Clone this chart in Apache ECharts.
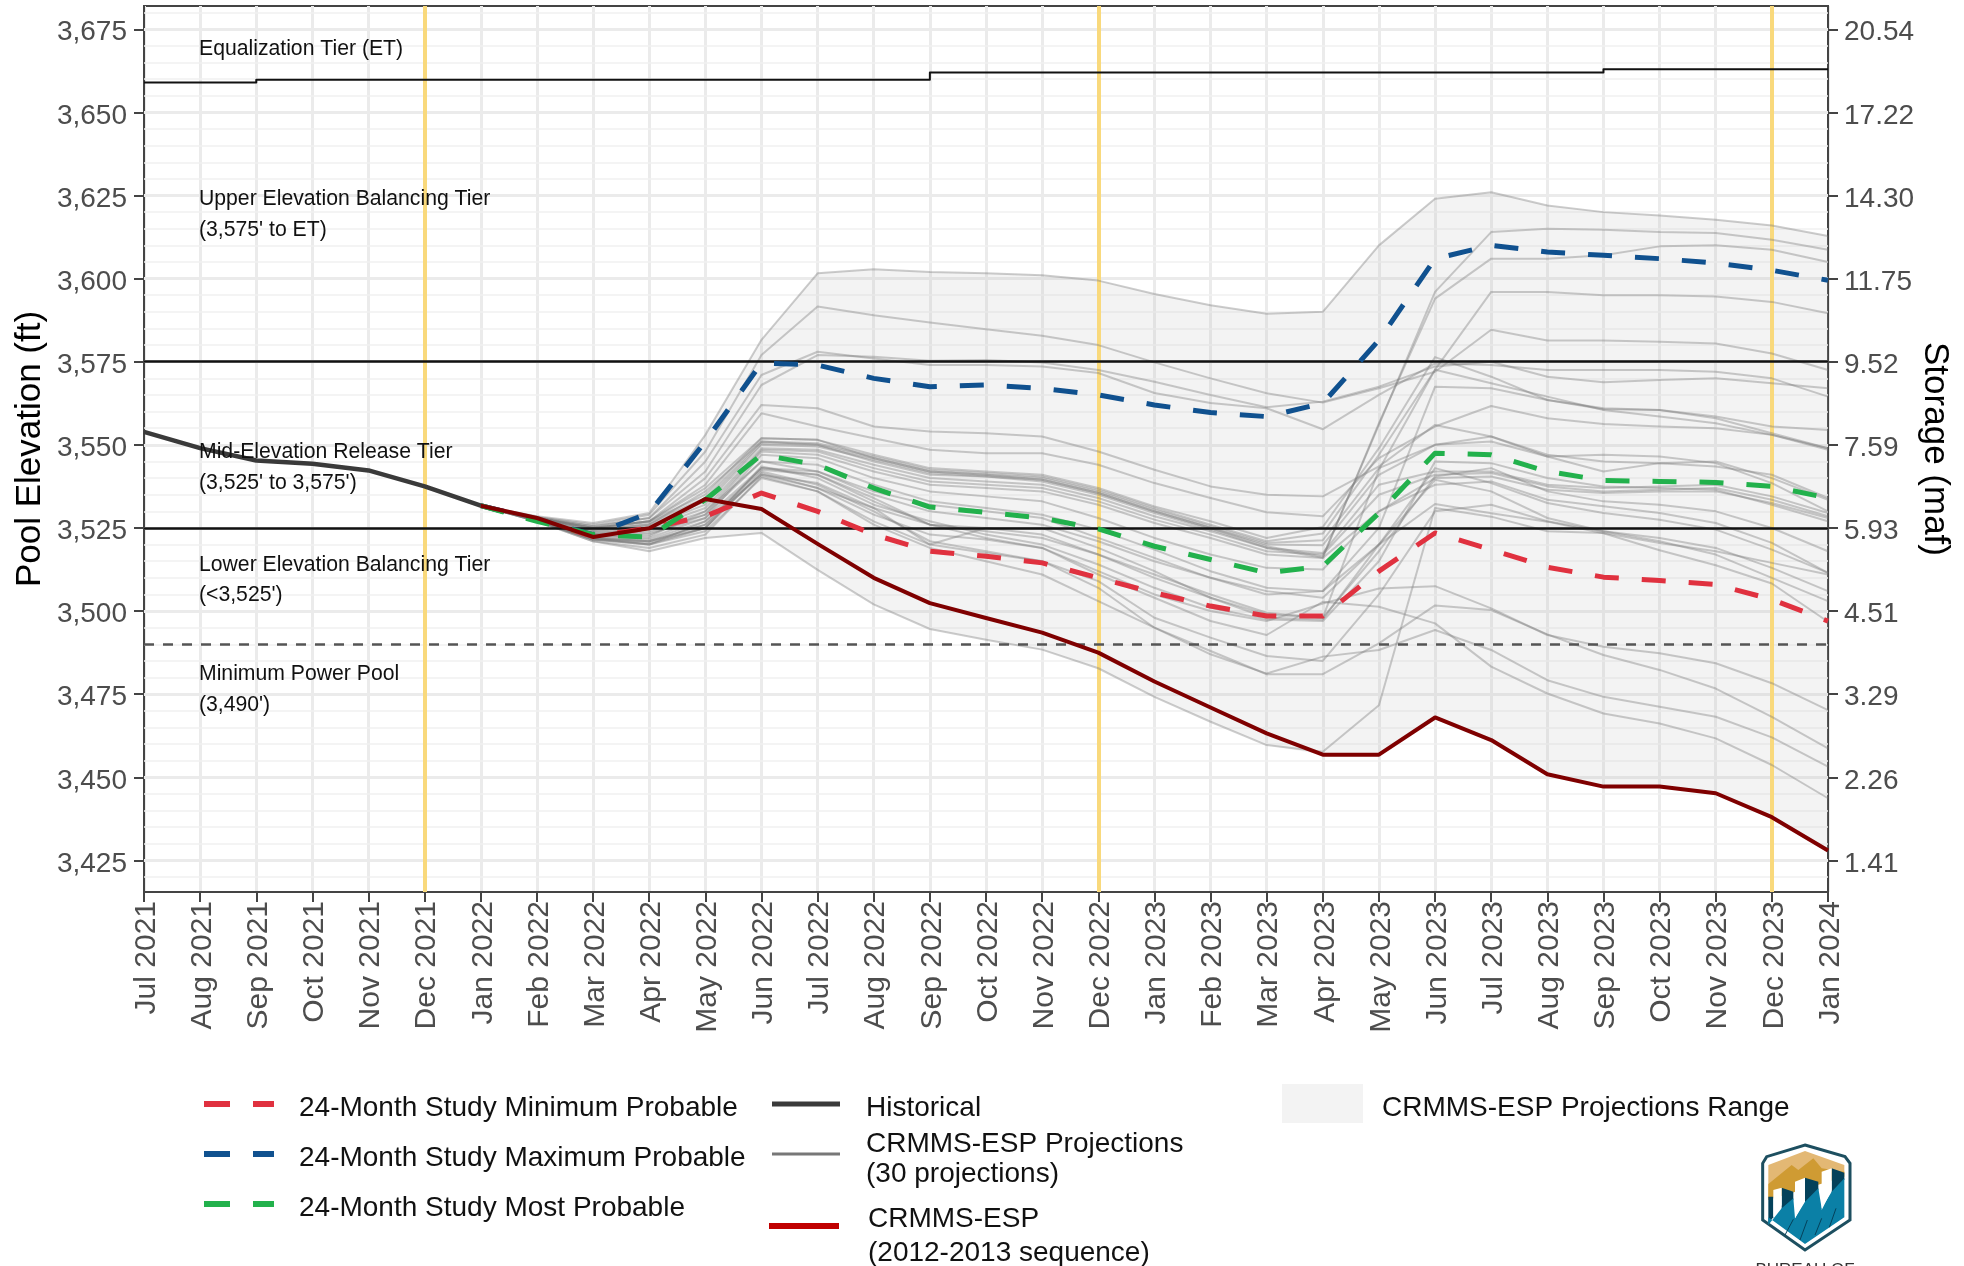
<!DOCTYPE html>
<html lang="en">
<head>
<meta charset="UTF-8">
<title>Lake Powell Pool Elevation</title>
<style>
    html, body { margin: 0; padding: 0; background: #fff; }
    #main { width: 1964px; height: 1266px; }
</style>
</head>
<body>
<div id="main"></div>
<script src="https://cdn.jsdelivr.net/npm/echarts@6/dist/echarts.min.js"></script>
<script>
var months = ['Jul 2021','Aug 2021','Sep 2021','Oct 2021','Nov 2021','Dec 2021','Jan 2022','Feb 2022','Mar 2022','Apr 2022','May 2022','Jun 2022','Jul 2022','Aug 2022','Sep 2022','Oct 2022','Nov 2022','Dec 2022','Jan 2023','Feb 2023','Mar 2023','Apr 2023','May 2023','Jun 2023','Jul 2023','Aug 2023','Sep 2023','Oct 2023','Nov 2023','Dec 2023','Jan 2024'];
var elevationTicks = [3425,3450,3475,3500,3525,3550,3575,3600,3625,3650,3675];
var storageLabels = ['1.41','2.26','3.29','4.51','5.93','7.59','9.52','11.75','14.30','17.22','20.54'];
var minorTicks = [3420,3430,3435,3440,3445,3455,3460,3465,3470,3480,3485,3490,3495,3505,3510,3515,3520,3530,3535,3540,3545,3555,3560,3565,3570,3580,3585,3590,3595,3605,3610,3615,3620,3630,3635,3640,3645,3655,3660,3665,3670,3680];
var decemberMonths = ['Dec 2021','Dec 2022','Dec 2023'];

var historical = [3553.9,3549,3545.3,3544.3,3542.3,3537.5,3531.7];
var etTier = [3659,3659,3659.8,3659.8,3659.8,3659.8,3659.8,3659.8,3659.8,3659.8,3659.8,3659.8,3659.8,3659.8,3662,3662,3662,3662,3662,3662,3662,3662,3662,3662,3662,3662,3663,3663,3663,3663,3663];

// all of these start Jan 2022
var minProbable = [3531.7,3527.5,3522.5,3525,3528.5,3535.5,3530,3523,3518,3516.5,3514.5,3510,3505.5,3501.5,3498.5,3498.5,3512,3523.5,3518.5,3513.2,3510.2,3509.2,3508,3503.5,3497];
var maxProbable = [3531.7,3527.5,3523,3529.5,3551,3574.6,3574,3570,3567.5,3568,3567,3565,3562,3559.7,3558.5,3562.5,3581.5,3606,3610,3608,3607,3606,3604.7,3602.5,3599.5];
var mostProbable = [3531.7,3527,3523,3522.3,3533.5,3547,3544,3537,3531.3,3529.7,3528,3524.7,3519.5,3515.5,3511.5,3513.5,3529.5,3547.5,3547,3542,3539.3,3539,3538.7,3537.5,3534];
var seq2012 = [3531.7,3528,3522.3,3524.9,3533.7,3530.7,3520.2,3510,3502.4,3497.9,3493.5,3487.5,3478.8,3471,3463.2,3456.8,3456.8,3468,3461.2,3450.9,3447.2,3447.2,3445.2,3438,3428];

var proj01 = [3531.7,3528.5,3526.5,3529.5,3553,3581.6,3601.6,3602.8,3602,3601.6,3601,3599.4,3595.4,3592,3589.4,3590,3610,3624,3626,3622,3620,3619,3617.7,3616,3612.8];
var proj02 = [3531.7,3528.3,3526,3529,3548,3577,3591.6,3589,3586.8,3584.8,3582.8,3580,3574.8,3570,3565.5,3562.7,3567,3572,3584.6,3581.4,3581.4,3581,3580.5,3577.5,3572.5];
var proj03 = [3531.7,3528,3525.5,3528,3545,3571,3578,3576,3574,3574,3573.6,3571.6,3565.6,3562.6,3561,3554.7,3565,3574.5,3574,3572.5,3572.5,3572.5,3572,3570,3564.5];
var proj04 = [3531.7,3528.2,3525.5,3528,3542,3568,3577,3576.5,3575.3,3575.5,3574.8,3572.5,3569,3565,3561.3,3563,3567.5,3573.6,3575,3570.5,3568.8,3569.5,3570,3568.5,3567];
var proj05 = [3531.7,3528,3525,3527,3537,3552,3551.5,3546,3542,3541,3539.5,3535.5,3530,3525,3519.5,3516.4,3556,3596,3614,3615,3614.7,3614,3613.7,3611.7,3608.7];
var proj06 = [3531.7,3528,3524.5,3526,3536,3551,3550,3545,3541,3540.5,3539,3535,3529.5,3524.5,3519,3516,3556.5,3594,3606,3606,3607,3609.7,3610,3608.7,3605];
var proj07 = [3531.7,3527.5,3522,3520,3527,3541,3537,3531,3526,3524,3522,3517,3511,3505,3499.5,3498,3542.5,3572.6,3596,3596,3595,3595,3594.6,3593,3589.6];
var proj08 = [3531.7,3528,3525,3527,3540,3562,3561,3555.5,3554,3553.5,3552.5,3548,3542.5,3537.5,3535,3534.5,3543.5,3556,3552.5,3547,3545,3544.5,3543.5,3541,3534];
var proj09 = [3531.7,3528,3525,3527,3538,3559.5,3555.5,3552,3548.5,3547.5,3547.5,3544,3538.5,3534,3529.7,3528.5,3546,3555.5,3561.7,3558,3556.3,3555.5,3555,3553,3549];
var proj10 = [3531.7,3528,3525,3527,3535,3552,3551.5,3547,3543,3542,3541,3537,3531.5,3527,3522,3525.3,3549,3576.4,3570.5,3563.5,3560.7,3560.5,3558,3553.5,3549];
var proj11 = [3531.7,3528,3524.5,3526.5,3534,3551,3550.5,3546.5,3542.5,3541.5,3540.5,3536.5,3531,3526,3521,3523.3,3547,3572.6,3568.5,3564.5,3560.5,3558.5,3556.5,3553,3548.5];
var proj12 = [3531.7,3527.8,3524,3526,3533,3550.5,3550,3546,3542,3541,3540,3536,3530.5,3525.5,3520.5,3521.3,3543,3550,3552.5,3546.5,3542,3544.5,3545,3540,3533.5];
var proj13 = [3531.7,3527.8,3524,3525.5,3532,3550,3549.5,3545.5,3541.5,3540.5,3539.5,3535.5,3530,3525,3520,3519.8,3541,3550,3551,3546.5,3547,3546.5,3544.5,3538.5,3530];
var proj14 = [3531.7,3527.6,3523.5,3525,3531,3549,3548.5,3544,3540,3539,3538,3534,3528.5,3524,3519,3517.5,3538,3542,3542,3538,3537,3537.5,3538,3534.5,3529.5];
var proj15 = [3531.7,3527.6,3523.5,3524.5,3530,3548.5,3548,3543,3539,3538,3537,3533,3527.5,3523,3518,3517,3535,3541,3541.5,3537.5,3536,3536.5,3537,3533.5,3528.5];
var proj16 = [3531.7,3527.5,3523,3524,3529,3548,3547,3542,3538,3537,3536,3532,3526.5,3522,3517,3516,3530,3540,3540.5,3536.5,3535.5,3536,3536,3532.5,3528];
var proj17 = [3531.7,3527.5,3523,3523.5,3528,3547,3546,3540,3536,3534.5,3533,3528,3522,3517,3513,3512.5,3530,3538,3539,3533.5,3531.5,3529.5,3526.5,3520.5,3511.5];
var proj18 = [3531.7,3527,3521,3518,3522,3523.5,3512.4,3502,3494.6,3491.4,3488.4,3482.8,3474.2,3466.7,3459.7,3457.7,3471.7,3531,3528.4,3524,3523.5,3520.5,3518,3514.5,3511];
var proj19 = [3531.7,3527.4,3522.5,3522.5,3530,3545,3544,3538,3533,3531,3529,3524.5,3518.5,3512,3507,3506,3525,3567.5,3567,3563.5,3561,3560.5,3558.5,3555.5,3554.5];
var proj20 = [3531.7,3527.3,3522.5,3522,3528,3543,3542,3535,3530,3528,3526,3521,3515,3510,3506,3504,3520,3543,3538.5,3532.5,3529.5,3527.5,3524.5,3518.5,3511.5];
var proj21 = [3531.7,3527.3,3522,3521.5,3527,3542.5,3541,3534,3526,3525,3523,3517,3510,3504,3499,3498,3518,3540.5,3543,3536,3533,3532,3530,3525,3518];
var proj22 = [3531.7,3527.2,3522,3521,3526,3541,3538.5,3531,3520,3525,3525,3519,3512,3504,3498,3497.5,3520,3539.5,3536,3528,3524,3521,3517,3510,3503];
var proj23 = [3531.7,3527.2,3521.5,3521,3525,3543.5,3540,3532,3527,3523,3520,3514,3507,3501,3497.5,3497,3515,3545,3544.5,3540,3537.5,3537,3536.5,3532,3527];
var proj24 = [3531.7,3527,3521.5,3520,3524,3540,3536,3527,3520,3517.5,3515,3509,3498,3492,3486.5,3485,3505,3530,3532,3527,3524,3522,3519,3513,3506];
var proj25 = [3531.7,3527.2,3522,3521,3526,3543,3541,3533,3526,3522,3519,3512,3505,3500,3497,3502.3,3506.8,3507.5,3500.8,3492.8,3489.3,3487.3,3484.3,3478.3,3470.2];
var proj26 = [3531.7,3527.2,3521.5,3520.5,3525,3542,3538,3530,3521,3518,3515,3507,3495,3487,3481.2,3486.3,3488.3,3494.3,3488.3,3479.2,3474.2,3471.2,3468.2,3462,3453.2];
var proj27 = [3531.7,3527.1,3521.5,3520,3525,3541.5,3537,3529,3523,3521.5,3519,3511,3504,3497,3492.8,3502.8,3501.3,3496.3,3483.3,3475.2,3469.2,3466.2,3461.7,3453.7,3443.7];
var proj28 = [3531.7,3527,3521,3519,3523,3540.5,3536,3526,3519,3515,3511,3503,3495,3488,3481,3481,3490.3,3501.7,3500.3,3493,3486.8,3482.3,3476.7,3468.2,3458.7];
var proj29 = [3531.7,3527.5,3523,3523,3529,3545,3542,3536,3532,3530,3528,3522,3516,3510,3505,3506,3520,3532.2,3529.4,3526.9,3523.4,3518.3,3513.8,3508.3,3496.8];
var projections = [proj01,proj02,proj03,proj04,proj05,proj06,proj07,proj08,proj09,proj10,proj11,proj12,proj13,proj14,proj15,proj16,proj17,proj18,proj19,proj20,proj21,proj22,proj23,proj24,proj25,proj26,proj27,proj28,proj29];

var pad = [null,null,null,null,null,null];
var labelFont = '"Liberation Sans", Arial, sans-serif';

// ribbon: lowest and highest projection each month (seq 2012 is one of the 30)
var rangeLow = [], rangeSpan = [];
seq2012.forEach(function (v, i) {
    var all = projections.map(function (p) { return p[i]; }).concat(v);
    var lo = Math.min.apply(null, all);
    rangeLow.push(lo);
    rangeSpan.push(Math.max.apply(null, all) - lo);
});

function lineSeries(name, data, color, width, z, dash) {
    return {
        name: name, type: 'line', data: data, z: z, symbol: 'none', silent: true, animation: false,
        lineStyle: {color: color, width: width, type: dash || 'solid', cap: 'butt', join: 'round'}
    };
}

function rules(name, z, lines) {
    return {
        name: name, type: 'line', data: [], z: z, symbol: 'none', silent: true, animation: false,
        markLine: {silent: true, symbol: 'none', animation: false, label: {show: false}, precision: 5, z: z, data: lines}
    };
}

function yRules(values, color, width, dash) {
    return values.map(function (v) {
        return {yAxis: v, lineStyle: {color: color, width: width, type: dash || 'solid'}};
    });
}

var series = [];
series.push(rules('minor grid', 1, yRules(minorTicks, '#f0f0f0', 1.5)));
series.push(rules('major grid', 1, yRules(elevationTicks, '#ebebeb', 3)));
series.push({
    name: 'range base', type: 'line', stack: 'range', data: pad.concat(rangeLow), z: 2, symbol: 'none',
    silent: true, animation: false, lineStyle: {width: 0}
});
series.push({
    name: 'CRMMS-ESP Projections Range', type: 'line', stack: 'range', data: pad.concat(rangeSpan), z: 2, symbol: 'none',
    silent: true, animation: false, lineStyle: {width: 0}, areaStyle: {color: 'rgba(190,190,190,0.18)', opacity: 1}
});
series.push(rules('december', 3, decemberMonths.map(function (m) {
    return {xAxis: m, lineStyle: {color: '#f9d97c', width: 4, type: 'solid'}};
})));
projections.forEach(function (p, i) {
    series.push(lineSeries('projection ' + (i + 1), pad.concat(p), 'rgba(120,120,120,0.38)', 2, 4));
});
series.push(rules('tiers', 5, yRules([3575, 3525], '#111', 2.5)));
series.push(rules('min power', 5, yRules([3490], '#555', 2.5, [10, 9])));
var et = lineSeries('Equalization Tier', etTier, '#111', 2, 5);
et.step = 'end';
series.push(et);
series.push(lineSeries('24-Month Study Minimum Probable', pad.concat(minProbable), '#e0313f', 5, 6, [24, 23]));
series.push(lineSeries('24-Month Study Maximum Probable', pad.concat(maxProbable), '#10518f', 5, 6, [24, 23]));
series.push(lineSeries('24-Month Study Most Probable', pad.concat(mostProbable), '#22b14c', 5, 6, [24, 23]));
series.push(lineSeries('Historical', historical, '#3a3a3a', 4.5, 7));
series.push(lineSeries('CRMMS-ESP (2012-2013 sequence)', pad.concat(seq2012), '#7f0000', 4, 8));

function tierText(x, y, text) {
    return {type: 'text', x: x, y: y, z: 20, style: {text: text, font: '21.2px ' + labelFont, fill: '#111', verticalAlign: 'middle'}};
}
function legendText(x, y, text) {
    return {type: 'text', x: x, y: y, z: 20, style: {text: text, font: '28px ' + labelFont, fill: '#111', verticalAlign: 'middle'}};
}
function legendKey(x1, x2, y, color, width) {
    return {type: 'line', z: 20, shape: {x1: x1, y1: y, x2: x2, y2: y}, style: {stroke: color, lineWidth: width}};
}
function logoPts(points) {
    return points.map(function (p) { return [1750 + p[0] / 3, 1140 + p[1] / 3]; });
}
function poly(points, fill, stroke, lineWidth) {
    return {type: 'polygon', z: 20, shape: {points: logoPts(points)}, style: {fill: fill, stroke: stroke || null, lineWidth: lineWidth || 0}};
}
function hatch(a, b) {
    var p = logoPts([a, b]);
    return {type: 'line', z: 21, shape: {x1: p[0][0], y1: p[0][1], x2: p[1][0], y2: p[1][1]}, style: {stroke: '#04415a', lineWidth: 1}};
}

var graphics = [
    tierText(199, 49, 'Equalization Tier (ET)'),
    tierText(199, 199, 'Upper Elevation Balancing Tier'),
    tierText(199, 230, "(3,575' to ET)"),
    tierText(199, 452, 'Mid-Elevation Release Tier'),
    tierText(199, 483, "(3,525' to 3,575')"),
    tierText(199, 565, 'Lower Elevation Balancing Tier'),
    tierText(199, 595, "(<3,525')"),
    tierText(199, 674, 'Minimum Power Pool'),
    tierText(199, 705, "(3,490')"),

    legendKey(204, 230, 1104, '#e0313f', 6), legendKey(253, 274, 1104, '#e0313f', 6),
    legendKey(204, 230, 1154, '#10518f', 6), legendKey(253, 274, 1154, '#10518f', 6),
    legendKey(204, 230, 1204, '#22b14c', 6), legendKey(253, 274, 1204, '#22b14c', 6),
    legendText(299, 1108, '24-Month Study Minimum Probable'),
    legendText(299, 1158, '24-Month Study Maximum Probable'),
    legendText(299, 1208, '24-Month Study Most Probable'),
    legendKey(772, 840, 1104, '#3a3a3a', 5),
    legendKey(772, 840, 1154, '#777', 3),
    legendKey(769, 839, 1226, '#c00000', 6),
    legendText(866, 1108, 'Historical'),
    legendText(866, 1144, 'CRMMS-ESP Projections'),
    legendText(866, 1174, '(30 projections)'),
    legendText(868, 1219, 'CRMMS-ESP'),
    legendText(868, 1253, '(2012-2013 sequence)'),
    {type: 'rect', z: 20, shape: {x: 1282, y: 1084, width: 81, height: 39}, style: {fill: '#f3f3f3'}},
    legendText(1382, 1108, 'CRMMS-ESP Projections Range'),

    // Reclamation shield
    poly([[165,15],[285,50],[300,70],[300,240],[165,330],[38,240],[38,70],[50,50]], '#fff', '#1d4f60', 3),
    poly([[55,75],[165,33],[283,75],[283,100],[55,175]], '#e3b874'),
    poly([[55,132],[125,75],[145,90],[190,55],[215,85],[283,95],[283,110],[55,180]], '#cf9b33'),
    poly([[55,170],[70,170],[70,232],[55,250]], '#04415a'),
    poly([[95,143],[130,155],[130,180],[95,228]], '#04415a'),
    poly([[165,113],[205,125],[205,150],[165,205]], '#04415a'),
    poly([[245,85],[283,98],[283,118],[245,180]], '#04415a'),
    poly([[55,255],[95,205],[130,175],[135,235],[165,185],[205,145],[215,205],[245,155],[283,115],[283,232],[165,312],[55,232]], '#0b80a6'),
    poly([[70,150],[95,143],[95,195],[70,232]], '#fff'),
    poly([[135,125],[165,113],[165,180],[135,235]], '#fff'),
    poly([[215,95],[245,85],[245,150],[215,210]], '#fff'),
    hatch([105,285],[130,238]), hatch([150,300],[172,240]), hatch([195,285],[215,235]), hatch([238,262],[258,205]),
    {type: 'text', x: 1805, y: 1262, z: 20, style: {text: 'BUREAU OF', font: '17px ' + labelFont, fill: '#333', align: 'center', verticalAlign: 'top'}}
];

// rich style only to nudge the tick text onto the tick
var tickRich = {t: {fontSize: 28, color: '#4d4d4d', fontFamily: labelFont, padding: [7, 0, 0, 0]}};
var monthRich = {t: {fontSize: 30, color: '#4d4d4d', fontFamily: labelFont, padding: [5, 0, 0, 0]}};

var option = {
    backgroundColor: '#fff',
    animation: false,
    grid: {left: 144, right: 136, top: 6, bottom: 374, outerBoundsMode: 'none', show: true, borderColor: '#444', borderWidth: 2, backgroundColor: '#fff'},
    xAxis: {
        type: 'category', data: months, boundaryGap: false,
        axisLine: {lineStyle: {color: '#444', width: 2}},
        axisTick: {show: true, interval: 0, length: 10, lineStyle: {color: '#444', width: 2}},
        axisLabel: {
            interval: 0, rotate: 90, margin: 9, rich: monthRich,
            formatter: function (v) { return '{t|' + v + '}'; }
        },
        splitLine: {show: true, interval: 0, lineStyle: {color: '#ebebeb', width: 3}}
    },
    yAxis: [{
        type: 'value', min: 3415.5, max: 3682, position: 'left',
        name: 'Pool Elevation (ft)', nameLocation: 'middle', nameGap: 96, nameMoveOverlap: false,
        nameTextStyle: {fontSize: 35, color: '#000', fontFamily: labelFont},
        axisLine: {show: true, lineStyle: {color: '#444', width: 2}},
        axisTick: {show: true, length: 10, customValues: elevationTicks, lineStyle: {color: '#444', width: 2}},
        axisLabel: {
            customValues: elevationTicks, margin: 17, rich: tickRich,
            formatter: function (v) { return '{t|' + String(v).charAt(0) + ',' + String(v).slice(1) + '}'; }
        },
        splitLine: {show: false}
    }, {
        type: 'value', min: 3415.5, max: 3682, position: 'right',
        name: 'Storage (maf)', nameLocation: 'middle', nameGap: 89, nameRotate: -90, nameMoveOverlap: false,
        nameTextStyle: {fontSize: 35, color: '#000', fontFamily: labelFont},
        axisLine: {show: true, lineStyle: {color: '#444', width: 2}},
        axisTick: {show: true, length: 10, customValues: elevationTicks, lineStyle: {color: '#444', width: 2}},
        axisLabel: {
            customValues: elevationTicks, margin: 16, rich: tickRich,
            formatter: function (v) { return '{t|' + storageLabels[elevationTicks.indexOf(v)] + '}'; }
        },
        splitLine: {show: false}
    }],
    series: series,
    graphic: graphics
};

var myChart = echarts.init(document.getElementById('main'));
myChart.setOption(option);
</script>
</body>
</html>
